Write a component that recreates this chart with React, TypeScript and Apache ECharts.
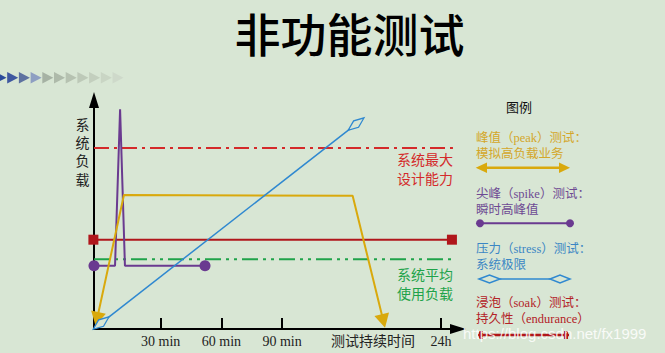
import React, { useEffect, useRef } from "react";
import * as echarts from "echarts";

// ---- data (schematic units: x ≈ minutes on a broken axis, y = load %) ----
const xTickValues = [30, 60, 90, 168.6];
const xLabelValues = [30, 60, 90, 135, 168.6];
const xLabelTexts = ["30 min", "60 min", "90 min", "测试持续时间", "24h"];

const maxCapacity = [[-3, 79], [174.5, 79]];
const avgLoad = [[-3, 30.5], [174.5, 30.5]];
const soakLoad = [[-3.3, 39], [174, 39]];
const spikeLoad = [[-3, 27.6], [7.4, 27.6], [9.9, 96], [12.3, 27.6], [51.9, 27.6]];
const peakLoad = [[-1.5, 4.4], [11.8, 58.5], [124.9, 58.2], [140.1, 3.5]];
const stressLoad = [[0.5, 2.6], [126.6, 89.5]];

const titleText = "非功能测试";
const yName = ["系", "统", "负", "载"];
const legendItems = [
  { l1: "峰值（peak）测试：", l2: "模拟高负载业务", color: "#d4a62a" },
  { l1: "尖峰（spike）测试：", l2: "瞬时高峰值", color: "#6e4a93" },
  { l1: "压力（stress）测试：", l2: "系统极限", color: "#3b86c4" },
  { l1: "浸泡（soak）测试：", l2: "持久性（endurance）", color: "#b32227" },
];
const arrowColors = ["#2b4b9b", "#3f58a0", "#5e72a0", "#8e9fc2", "#a6b2a4", "#aebaaa", "#b6c2b1", "#bdc9b8", "#c3cfbe", "#c9d5c4", "#ced9ca"];

const BG = "#d8e6d4";
const GOLD = "#d9a90c";
const PURPLE = "#6a3a90";
const BLUE = "#2f88d0";
const DARKRED = "#b0161b";
const RED = "#d42a2a";
const GREEN = "#1fa34a";
const CJK = '"Noto Sans CJK SC"';
const MIX = '"Liberation Serif", "Noto Sans CJK SC"';

export default function App() {
  const ref = useRef<HTMLDivElement>(null);
  useEffect(() => {
    const chart = echarts.init(ref.current!, null, { renderer: "svg" });

    const graphics: any[] = [];
    // title
    graphics.push({
      type: "text", x: 349.5, y: 32,
      style: { text: titleText, font: `500 46px ${CJK}`, fill: "#000", textAlign: "center", textVerticalAlign: "middle" },
    });
    // decorative arrow row
    arrowColors.forEach((c, i) => {
      const x0 = -4.5 + i * 11.7;
      graphics.push({
        type: "polygon",
        shape: { points: [[x0, 72], [x0 + 11, 77.7], [x0, 83.4]] },
        style: { fill: c },
      });
    });
    // y axis name
    yName.forEach((ch, i) => {
      graphics.push({
        type: "text", x: 82.5, y: 123.5 + i * 18.4,
        style: { text: ch, font: `14px ${CJK}`, fill: "#222", textAlign: "center", textVerticalAlign: "middle" },
      });
    });
    // annotations
    graphics.push({
      type: "text", x: 453, y: 150,
      style: { text: "系统最大\n设计能力", font: `14px ${CJK}`, lineHeight: 18.4, fill: RED, textAlign: "right", textVerticalAlign: "top" },
    });
    graphics.push({
      type: "text", x: 453, y: 264.7,
      style: { text: "系统平均\n使用负载", font: `14px ${CJK}`, lineHeight: 18.6, fill: GREEN, textAlign: "right", textVerticalAlign: "top" },
    });
    // legend title
    graphics.push({
      type: "text", x: 519, y: 106,
      style: { text: "图例", font: `13px ${CJK}`, fill: "#111", textAlign: "center", textVerticalAlign: "middle" },
    });
    const l1y = [138, 194.3, 249, 303.3];
    legendItems.forEach((it, i) => {
      graphics.push({
        type: "text", x: 476, y: l1y[i],
        style: { text: it.l1, font: `12.5px ${MIX}`, fill: it.color, textAlign: "left", textVerticalAlign: "middle" },
      });
      graphics.push({
        type: "text", x: 476, y: l1y[i] + 16,
        style: { text: it.l2, font: `12.5px ${MIX}`, fill: it.color, textAlign: "left", textVerticalAlign: "middle" },
      });
    });
    // legend samples
    graphics.push({ type: "line", shape: { x1: 484, y1: 167.7, x2: 562, y2: 167.7 }, style: { stroke: GOLD, lineWidth: 2.5 } });
    graphics.push({ type: "polygon", shape: { points: [[475.7, 167.7], [487, 162.5], [487, 173]] }, style: { fill: GOLD } });
    graphics.push({ type: "polygon", shape: { points: [[570, 167.7], [559, 162.5], [559, 173]] }, style: { fill: GOLD } });

    graphics.push({ type: "line", shape: { x1: 480, y1: 223.3, x2: 570, y2: 223.3 }, style: { stroke: PURPLE, lineWidth: 2 } });
    graphics.push({ type: "circle", shape: { cx: 480, cy: 223.3, r: 4 }, style: { fill: PURPLE } });
    graphics.push({ type: "circle", shape: { cx: 570, cy: 223.3, r: 4 }, style: { fill: PURPLE } });

    graphics.push({ type: "line", shape: { x1: 500, y1: 279, x2: 550, y2: 279 }, style: { stroke: BLUE, lineWidth: 1.5 } });
    graphics.push({ type: "polygon", shape: { points: [[479, 279], [489.5, 275], [500, 279], [489.5, 283]] }, style: { fill: BG, stroke: BLUE, lineWidth: 1.5 } });
    graphics.push({ type: "polygon", shape: { points: [[550, 279], [560, 275], [570, 279], [560, 283]] }, style: { fill: BG, stroke: BLUE, lineWidth: 1.5 } });

    graphics.push({ type: "line", shape: { x1: 478, y1: 335, x2: 569, y2: 335 }, style: { stroke: DARKRED, lineWidth: 2.5 } });
    graphics.push({ type: "rect", shape: { x: 479, y: 331, width: 4, height: 8 }, style: { fill: DARKRED } });
    graphics.push({ type: "rect", shape: { x: 564, y: 331, width: 4, height: 8 }, style: { fill: DARKRED } });

    // watermark
    graphics.push({
      type: "text", x: 463, y: 333, z: 100,
      style: { text: "https://blog.csdn.net/fx1999", font: `15px "Liberation Sans"`, fill: "rgba(255,255,255,0.85)", textAlign: "left", textVerticalAlign: "middle" },
    });

    const endSym = (arr: number[][], sym: string, rot: number[] = [0, 0]) =>
      arr.map((p, i) => {
        if (i === 0) return { value: p, symbol: sym, symbolRotate: rot[0] };
        if (i === arr.length - 1) return { value: p, symbol: sym, symbolRotate: rot[1] };
        return { value: p, symbol: "none" };
      });

    chart.setOption({
      animation: false,
      backgroundColor: BG,
      grid: { left: 94, right: 207, top: 100, bottom: 24 },
      xAxis: {
        type: "value", min: -3, max: 177,
        axisLine: { show: true, onZero: false, symbol: ["none", "triangle"], symbolSize: [10, 16], lineStyle: { color: "#000", width: 2 } },
        axisTick: { show: true, inside: true, length: 11, customValues: xTickValues, lineStyle: { color: "#000", width: 2 } },
        axisLabel: {
          show: true, customValues: xLabelValues, margin: 5,
          formatter: (v: number) => { const i = xLabelValues.findIndex((x) => Math.abs(x - v) < 1e-6); return i >= 0 ? xLabelTexts[i] : ""; },
          color: "#222", fontSize: 14, fontFamily: MIX,
        },
        splitLine: { show: false },
      },
      yAxis: {
        type: "value", min: 0, max: 100,
        axisLine: { show: true, onZero: false, symbol: ["none", "triangle"], symbolSize: [10, 16], lineStyle: { color: "#000", width: 2 } },
        axisTick: { show: false }, axisLabel: { show: false }, splitLine: { show: false },
      },
      graphic: graphics,
      series: [
        { type: "line", data: maxCapacity, symbol: "none", lineStyle: { color: RED, width: 2, type: [15, 5, 3, 5] }, z: 2 },
        { type: "line", data: avgLoad, symbol: "none", lineStyle: { color: GREEN, width: 2, type: [16, 5, 3, 5, 3, 5] }, z: 2 },
        { type: "line", data: soakLoad, clip: false, symbol: "rect", symbolSize: 10, itemStyle: { color: DARKRED }, lineStyle: { color: DARKRED, width: 2 }, z: 3 },
        { type: "line", data: endSym(spikeLoad, "circle"), clip: false, symbolSize: 11, itemStyle: { color: PURPLE }, lineStyle: { color: PURPLE, width: 2 }, z: 3 },
        { type: "line", data: endSym(peakLoad, "triangle", [168, 193.6]), clip: false, symbolSize: [15, 14], itemStyle: { color: GOLD }, lineStyle: { color: GOLD, width: 2 }, z: 4 },
        { type: "line", data: endSym(stressLoad, "diamond", [38, 38]), clip: false, symbolSize: [20, 8], itemStyle: { color: BG, borderColor: BLUE, borderWidth: 1.5 }, lineStyle: { color: BLUE, width: 1.5 }, z: 4 },
      ],
    });
    return () => chart.dispose();
  }, []);
  return <div ref={ref} style={{ position: "fixed", left: 0, top: 0, width: 665, height: 353, background: BG }} />;
}
